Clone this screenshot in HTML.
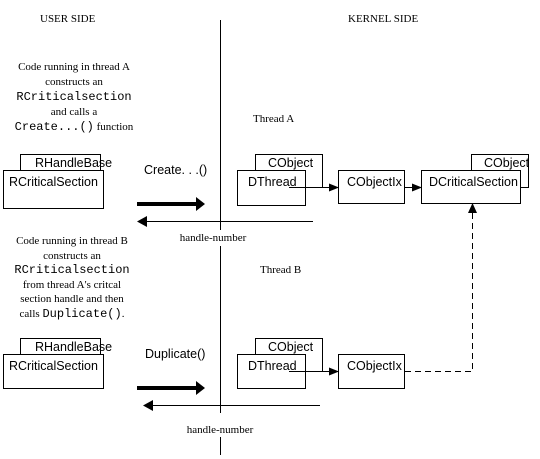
<!DOCTYPE html>
<html><head><style>
html,body{margin:0;padding:0;background:#fff;}
svg{display:block;}
.s{font-family:"Liberation Serif",serif;font-size:11px;}
.a{font-family:"Liberation Sans",sans-serif;font-size:12.5px;}
.m{font-family:"Liberation Mono",monospace;font-size:12px;}
</style></head><body>
<svg width="540" height="459" viewBox="0 0 540 459" xmlns="http://www.w3.org/2000/svg">
<defs>
<marker id="ah" markerWidth="10" markerHeight="8" refX="9" refY="4" orient="auto" markerUnits="userSpaceOnUse"><path d="M0,0 L10,4 L0,8 z" fill="#000"/></marker>
</defs>
<text class="s" x="40" y="22">USER SIDE</text>
<text class="s" x="348" y="22">KERNEL SIDE</text>
<line x1="220.5" y1="20" x2="220.5" y2="230" stroke="#000"/>
<line x1="220.5" y1="246" x2="220.5" y2="413" stroke="#000"/>
<line x1="220.5" y1="437" x2="220.5" y2="455" stroke="#000"/>

<g class="s" text-anchor="middle">
<text x="74" y="70">Code running in thread A</text>
<text x="74" y="85">constructs an</text>
<text x="74" y="130"><tspan class="m">Create...()</tspan> function</text>
<text x="74" y="115">and calls a</text>
<text x="72" y="244">Code running in thread B</text>
<text x="72" y="259">constructs an</text>
<text x="72" y="288">from thread A's critcal</text>
<text x="72" y="302">section handle and then</text>
<text x="72" y="317">calls <tspan class="m">Duplicate()</tspan>.</text>
</g>
<text class="m" x="74" y="100" text-anchor="middle">RCriticalsection</text>
<text class="m" x="72" y="273" text-anchor="middle">RCriticalsection</text>

<text class="s" x="253" y="122">Thread A</text>
<text class="s" x="260" y="273">Thread B</text>

<g fill="#fff" stroke="#000">
<rect x="20.5" y="154.5" width="80" height="33"/>
<rect x="3.5" y="170.5" width="100" height="38"/>
<rect x="255.5" y="154.5" width="67" height="33"/>
<rect x="237.5" y="170.5" width="68" height="35"/>
<rect x="338.5" y="170.5" width="66" height="33"/>
<rect x="471.5" y="154.5" width="57" height="33"/>
<rect x="421.5" y="170.5" width="99" height="33"/>

<rect x="20.5" y="338.5" width="80" height="33"/>
<rect x="3.5" y="354.5" width="100" height="34"/>
<rect x="255.5" y="338.5" width="67" height="33"/>
<rect x="237.5" y="354.5" width="68" height="34"/>
<rect x="338.5" y="354.5" width="66" height="34"/>
</g>
<g class="a">
<text x="35" y="167">RHandleBase</text>
<text x="9" y="186">RCriticalSection</text>
<text x="268" y="167">CObject</text>
<text x="248" y="186">DThread</text>
<text x="347" y="186">CObjectIx</text>
<text x="484" y="167">CObject</text>
<text x="429" y="186">DCriticalSection</text>
<text x="35" y="351">RHandleBase</text>
<text x="9" y="370">RCriticalSection</text>
<text x="268" y="351">CObject</text>
<text x="248" y="370">DThread</text>
<text x="347" y="370">CObjectIx</text>
<text x="144" y="174">Create. . .()</text>
<text x="145" y="358">Duplicate()</text>
</g>

<line x1="289" y1="187.5" x2="338" y2="187.5" stroke="#000" marker-end="url(#ah)"/>
<line x1="404" y1="187.5" x2="421" y2="187.5" stroke="#000" marker-end="url(#ah)"/>
<line x1="289" y1="371.5" x2="338" y2="371.5" stroke="#000" marker-end="url(#ah)"/>
<path d="M405,371.5 H472.5 V204" fill="none" stroke="#000" stroke-dasharray="6,4"/>
<path d="M472.5,203 L468,213 L477,213 z" fill="#000"/>

<line x1="137" y1="204" x2="198" y2="204" stroke="#000" stroke-width="4"/>
<path d="M196,197 L205,204 L196,211 z" fill="#000"/>
<line x1="137" y1="388" x2="198" y2="388" stroke="#000" stroke-width="4"/>
<path d="M196,381 L205,388 L196,395 z" fill="#000"/>

<line x1="145" y1="221.5" x2="313" y2="221.5" stroke="#000"/>
<path d="M137,221.5 L147,216 L147,227 z" fill="#000"/>
<line x1="151" y1="405.5" x2="320" y2="405.5" stroke="#000"/>
<path d="M143,405.5 L153,400 L153,411 z" fill="#000"/>

<text class="s" x="213" y="241" text-anchor="middle">handle-number</text>
<text class="s" x="220" y="433" text-anchor="middle">handle-number</text>
</svg>
</body></html>
